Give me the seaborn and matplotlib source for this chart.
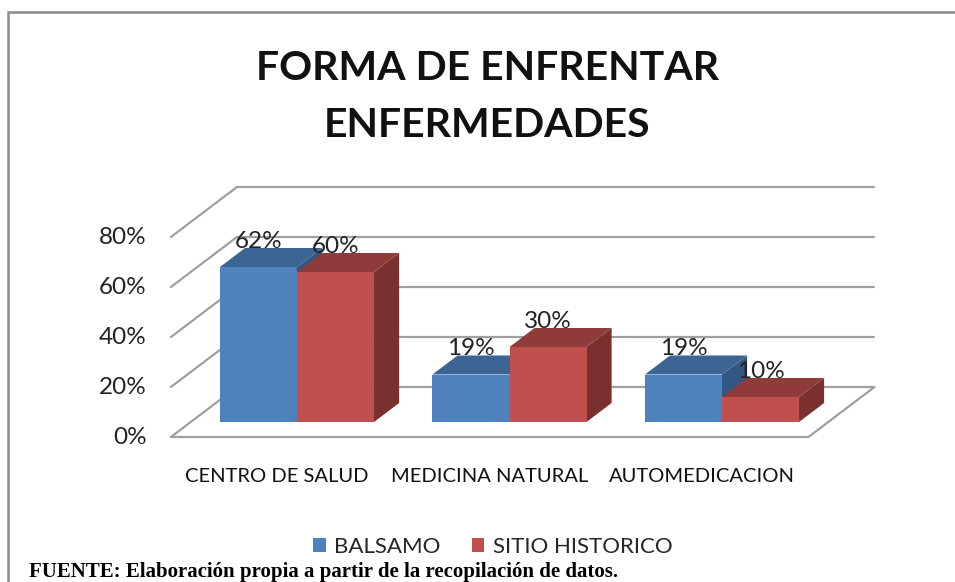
import matplotlib
matplotlib.use("Agg")
import matplotlib.pyplot as plt
from matplotlib.patches import Polygon, Rectangle
import seaborn as sns
import pandas as pd

# data
categorias = ["CENTRO DE SALUD", "MEDICINA NATURAL", "AUTOMEDICACION"]
balsamo = [62, 19, 19]
sitio_historico = [60, 30, 10]
series = ["BALSAMO", "SITIO HISTORICO"]
niveles = [0, 20, 40, 60, 80]

df = pd.DataFrame({
    "categoria": categorias * 2,
    "valor": balsamo + sitio_historico,
    "serie": [series[0]] * 3 + [series[1]] * 3,
})

azul = "#4f81bd"
rojo = "#c0504d"
sombras = {azul: ("#3d6594", "#325783"), rojo: ("#8f3b39", "#7a302e")}

sns.set_theme(style="white")
plt.rcParams["font.family"] = ["Lato", "DejaVu Sans"]

fig = plt.figure(figsize=(9.55, 5.82), dpi=100)
ax = fig.add_axes([0, 0, 1, 1])

sns.barplot(data=df, x="categoria", y="valor", hue="serie", palette=[azul, rojo],
            width=0.725, errorbar=None, linewidth=0, saturation=1, ax=ax)
handles, labels = ax.get_legend_handles_labels()
if ax.get_legend() is not None:
    ax.get_legend().remove()

# pseudo 3d: depth vector of the whole floor (in data units)
DX, DY = 0.3106, 20.0
d_front, d_back, d_bar = -0.3, 0.7, 0.38
gris = "#a0a0a0"

x_left, x_right = -0.5, len(categorias) - 0.5
for v in niveles:
    ax.plot([x_left + d_front * DX, x_left + d_back * DX],
            [v + d_front * DY, v + d_back * DY], color=gris, lw=1.6, zorder=1)
    ax.plot([x_left + d_back * DX, x_right + d_back * DX],
            [v + d_back * DY, v + d_back * DY], color=gris, lw=1.6, zorder=1)
    ax.text(x_left + d_front * DX - 0.115, v + d_front * DY, f"{v}%",
            ha="right", va="center", fontsize=17.5, color="#222222")
# floor
ax.plot([x_left + d_front * DX, x_right + d_front * DX, x_right + d_back * DX],
        [d_front * DY, d_front * DY, d_back * DY], color=gris, lw=1.6, zorder=1)

# tops and sides of bars
bdx, bdy = d_bar * DX, d_bar * DY
for p in list(ax.patches):
    x0, w, h = p.get_x(), p.get_width(), p.get_height()
    if h <= 0:
        continue
    fc = matplotlib.colors.to_hex(p.get_facecolor())
    top_c, side_c = sombras.get(fc, sombras[azul])
    z = 3 if fc == azul else 3.3
    p.set_zorder(z)
    side = Polygon([(x0 + w, 0), (x0 + w + bdx, bdy), (x0 + w + bdx, h + bdy), (x0 + w, h)],
                   closed=True, facecolor=side_c, edgecolor="none", zorder=z - 0.1)
    top = Polygon([(x0, h), (x0 + w, h), (x0 + w + bdx, h + bdy), (x0 + bdx, h + bdy)],
                  closed=True, facecolor=top_c, edgecolor="none", zorder=z - 0.1)
    ax.add_patch(side)
    ax.add_patch(top)
    ax.text(x0 + w / 2, h + 10.4, f"{h:.0f}%", ha="center", va="center",
            fontsize=17.5, color="#222222", zorder=5)

for i, c in enumerate(categorias):
    ax.text(i + d_front * DX, -21.6, c, ha="center", va="center",
            fontsize=14.5, color="#111111")

ax.set_xlim(-297 / 212.5, (955 - 297) / 212.5)
ax.set_ylim(-160 / 2.5, (582 - 160) / 2.5)
ax.axis("off")

# title
fig.text(487.5 / 955, 1 - 80 / 582, "FORMA DE ENFRENTAR", ha="center", va="baseline",
         fontsize=29.5, fontweight="bold", color="#111111")
fig.text(487.5 / 955, 1 - 137 / 582, "ENFERMEDADES", ha="center", va="baseline",
         fontsize=29.5, fontweight="bold", color="#111111")

fig.legend(handles, labels, loc="center", bbox_to_anchor=(493 / 955, 1 - 547 / 582),
           ncol=2, frameon=False, fontsize=16, handlelength=0.55, handleheight=0.55,
           handletextpad=0.4, columnspacing=1.4)

fig.text(29 / 955, 1 - 577.5 / 582, "FUENTE: Elaboración propia a partir de la recopilación de datos.",
         ha="left", va="baseline", fontsize=15, fontweight="bold",
         family=["Liberation Serif", "DejaVu Serif"], color="black")

fig.add_artist(Rectangle((7.5 / 955, -0.1), 1.2, 1 - 11.5 / 582 + 0.1, transform=fig.transFigure,
                         fill=False, edgecolor="#8c8c8c", lw=1.8))

fig.savefig("out.png", dpi=100)
